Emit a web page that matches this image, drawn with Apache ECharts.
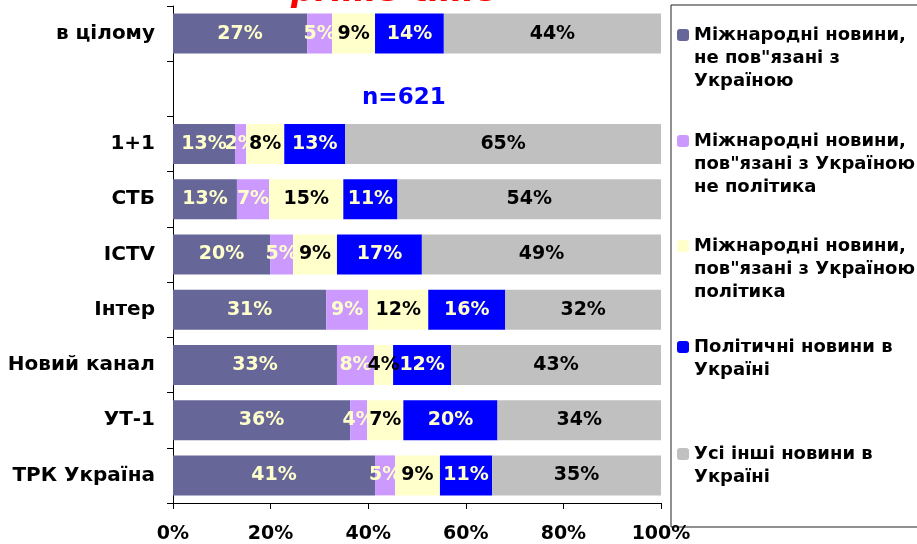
<!DOCTYPE html>
<html>
<head>
<meta charset="utf-8">
<script src="https://cdn.jsdelivr.net/npm/echarts@6/dist/echarts.min.js"></script>
<style>
  html, body { margin: 0; padding: 0; background: #fff; }
  #main { width: 917px; height: 544px; }
</style>
</head>
<body>
<div id="main"></div>
<script>
// channels, top to bottom (the empty one is the gap with n=621)
const channels = ["в цілому", "", "1+1", "СТБ", "ICTV", "Інтер", "Новий канал", "УТ-1", "ТРК Україна"];

const seriesNames = [
  "Міжнародні новини,\nне пов\"язані з\nУкраїною",
  "Міжнародні новини,\nпов\"язані з Україною:\nне політика",
  "Міжнародні новини,\nпов\"язані з Україною:\nполітика",
  "Політичні новини в\nУкраїні",
  "Усі інші новини в\nУкраїні"
];

// bar lengths (share of 100%)
const intlNotUkr   = [27.5, "-", 12.7, 13.1, 19.9, 31.4, 33.6, 36.3, 41.4];
const intlUkrOther = [5.1,  "-", 2.3,  6.6,  4.7,  8.6,  7.6,  3.5,  4.1];
const intlUkrPol   = [8.8,  "-", 7.8,  15.2, 9.0,  12.3, 3.9,  7.4,  9.2];
const politicsUkr  = [14.1, "-", 12.5, 11.1, 17.4, 15.8, 11.9, 19.3, 10.7];
const otherUkr     = [44.5, "-", 64.7, 54.0, 49.0, 31.9, 43.0, 33.5, 34.6];

// percentages printed on the bars
const lblIntlNotUkr   = [27, "", 13, 13, 20, 31, 33, 36, 41];
const lblIntlUkrOther = [5,  "", 2,  7,  5,  9,  8,  4,  5];
const lblIntlUkrPol   = [9,  "", 8,  15, 9,  12, 4,  7,  9];
const lblPoliticsUkr  = [14, "", 13, 11, 17, 16, 12, 20, 11];
const lblOtherUkr     = [44, "", 65, 54, 49, 32, 43, 34, 35];

const xTicks = [0, 20, 40, 60, 80, 100];

const colors = ["#666699", "#CC99FF", "#FFFFCC", "#0000FF", "#C0C0C0"];
const labelColors = ["#FFFFCC", "#FFFFCC", "#000000", "#FFFFCC", "#000000"];
const values = [intlNotUkr, intlUkrOther, intlUkrPol, politicsUkr, otherUkr];
const printed = [lblIntlNotUkr, lblIntlUkrOther, lblIntlUkrPol, lblPoliticsUkr, lblOtherUkr];

const font = "DejaVu Sans";

const chart = echarts.init(document.getElementById("main"));

// one legend per item so each can sit at its own height;
// leading blank lines keep the first text line level with the square
const legendTops = [-22.5, 83.5, 188.5, 312.5, 419.5];
const legends = seriesNames.map((name, i) => {
  const lines = name.split("\n").length;
  return {
    orient: "vertical",
    left: 677,
    top: legendTops[i],
    padding: 0,
    itemWidth: 12,
    itemHeight: 12,
    selectedMode: false,
    data: [name],
    formatter: n => "\n".repeat(lines - 1) + n,
    textStyle: {
      fontFamily: font,
      fontSize: 18,
      fontWeight: "bold",
      color: "#000",
      lineHeight: 23
    }
  };
});

const option = {
  animation: false,
  backgroundColor: "#fff",
  title: [
    {
      text: "prime-time",
      left: 286,
      top: -29,
      textStyle: { fontFamily: font, fontSize: 33, fontWeight: "bold", fontStyle: "italic", color: "#FF0000" }
    },
    {
      text: "n=621",
      left: 357,
      top: 82,
      textStyle: { fontFamily: font, fontSize: 23, fontWeight: "bold", color: "#0000FF" }
    }
  ],
  legend: legends,
  graphic: [
    {
      type: "rect",
      shape: { x: 671, y: 5, width: 270, height: 522 },
      style: { fill: "none", stroke: "#222", lineWidth: 1 },
      z: -1
    }
  ],
  grid: { left: 173, right: 256, top: 6, bottom: 38 },
  xAxis: {
    type: "value",
    min: 0,
    max: 100,
    interval: 20,
    axisLine: { show: true, lineStyle: { color: "#000" } },
    axisTick: { show: true, length: 6, lineStyle: { color: "#000" } },
    splitLine: { show: false },
    axisLabel: {
      margin: 22,
      fontFamily: font,
      fontSize: 19,
      fontWeight: "bold",
      color: "#000",
      formatter: v => (xTicks.indexOf(v) >= 0 ? v + "%" : "")
    }
  },
  yAxis: {
    type: "category",
    inverse: true,
    data: channels,
    axisLine: { show: true, lineStyle: { color: "#000" } },
    axisTick: { show: true, length: 6, lineStyle: { color: "#000" } },
    axisLabel: {
      margin: 18,
      fontFamily: font,
      fontSize: 20,
      fontWeight: "bold",
      color: "#000"
    }
  },
  series: seriesNames.map((name, i) => ({
    name: name,
    type: "bar",
    stack: "total",
    barWidth: 40,
    data: values[i],
    itemStyle: { color: colors[i] },
    label: {
      show: true,
      position: "inside",
      fontFamily: font,
      fontSize: 19,
      fontWeight: "bold",
      color: labelColors[i],
      formatter: p => printed[i][p.dataIndex] + "%"
    }
  }))
};

chart.setOption(option);
</script>
</body>
</html>
